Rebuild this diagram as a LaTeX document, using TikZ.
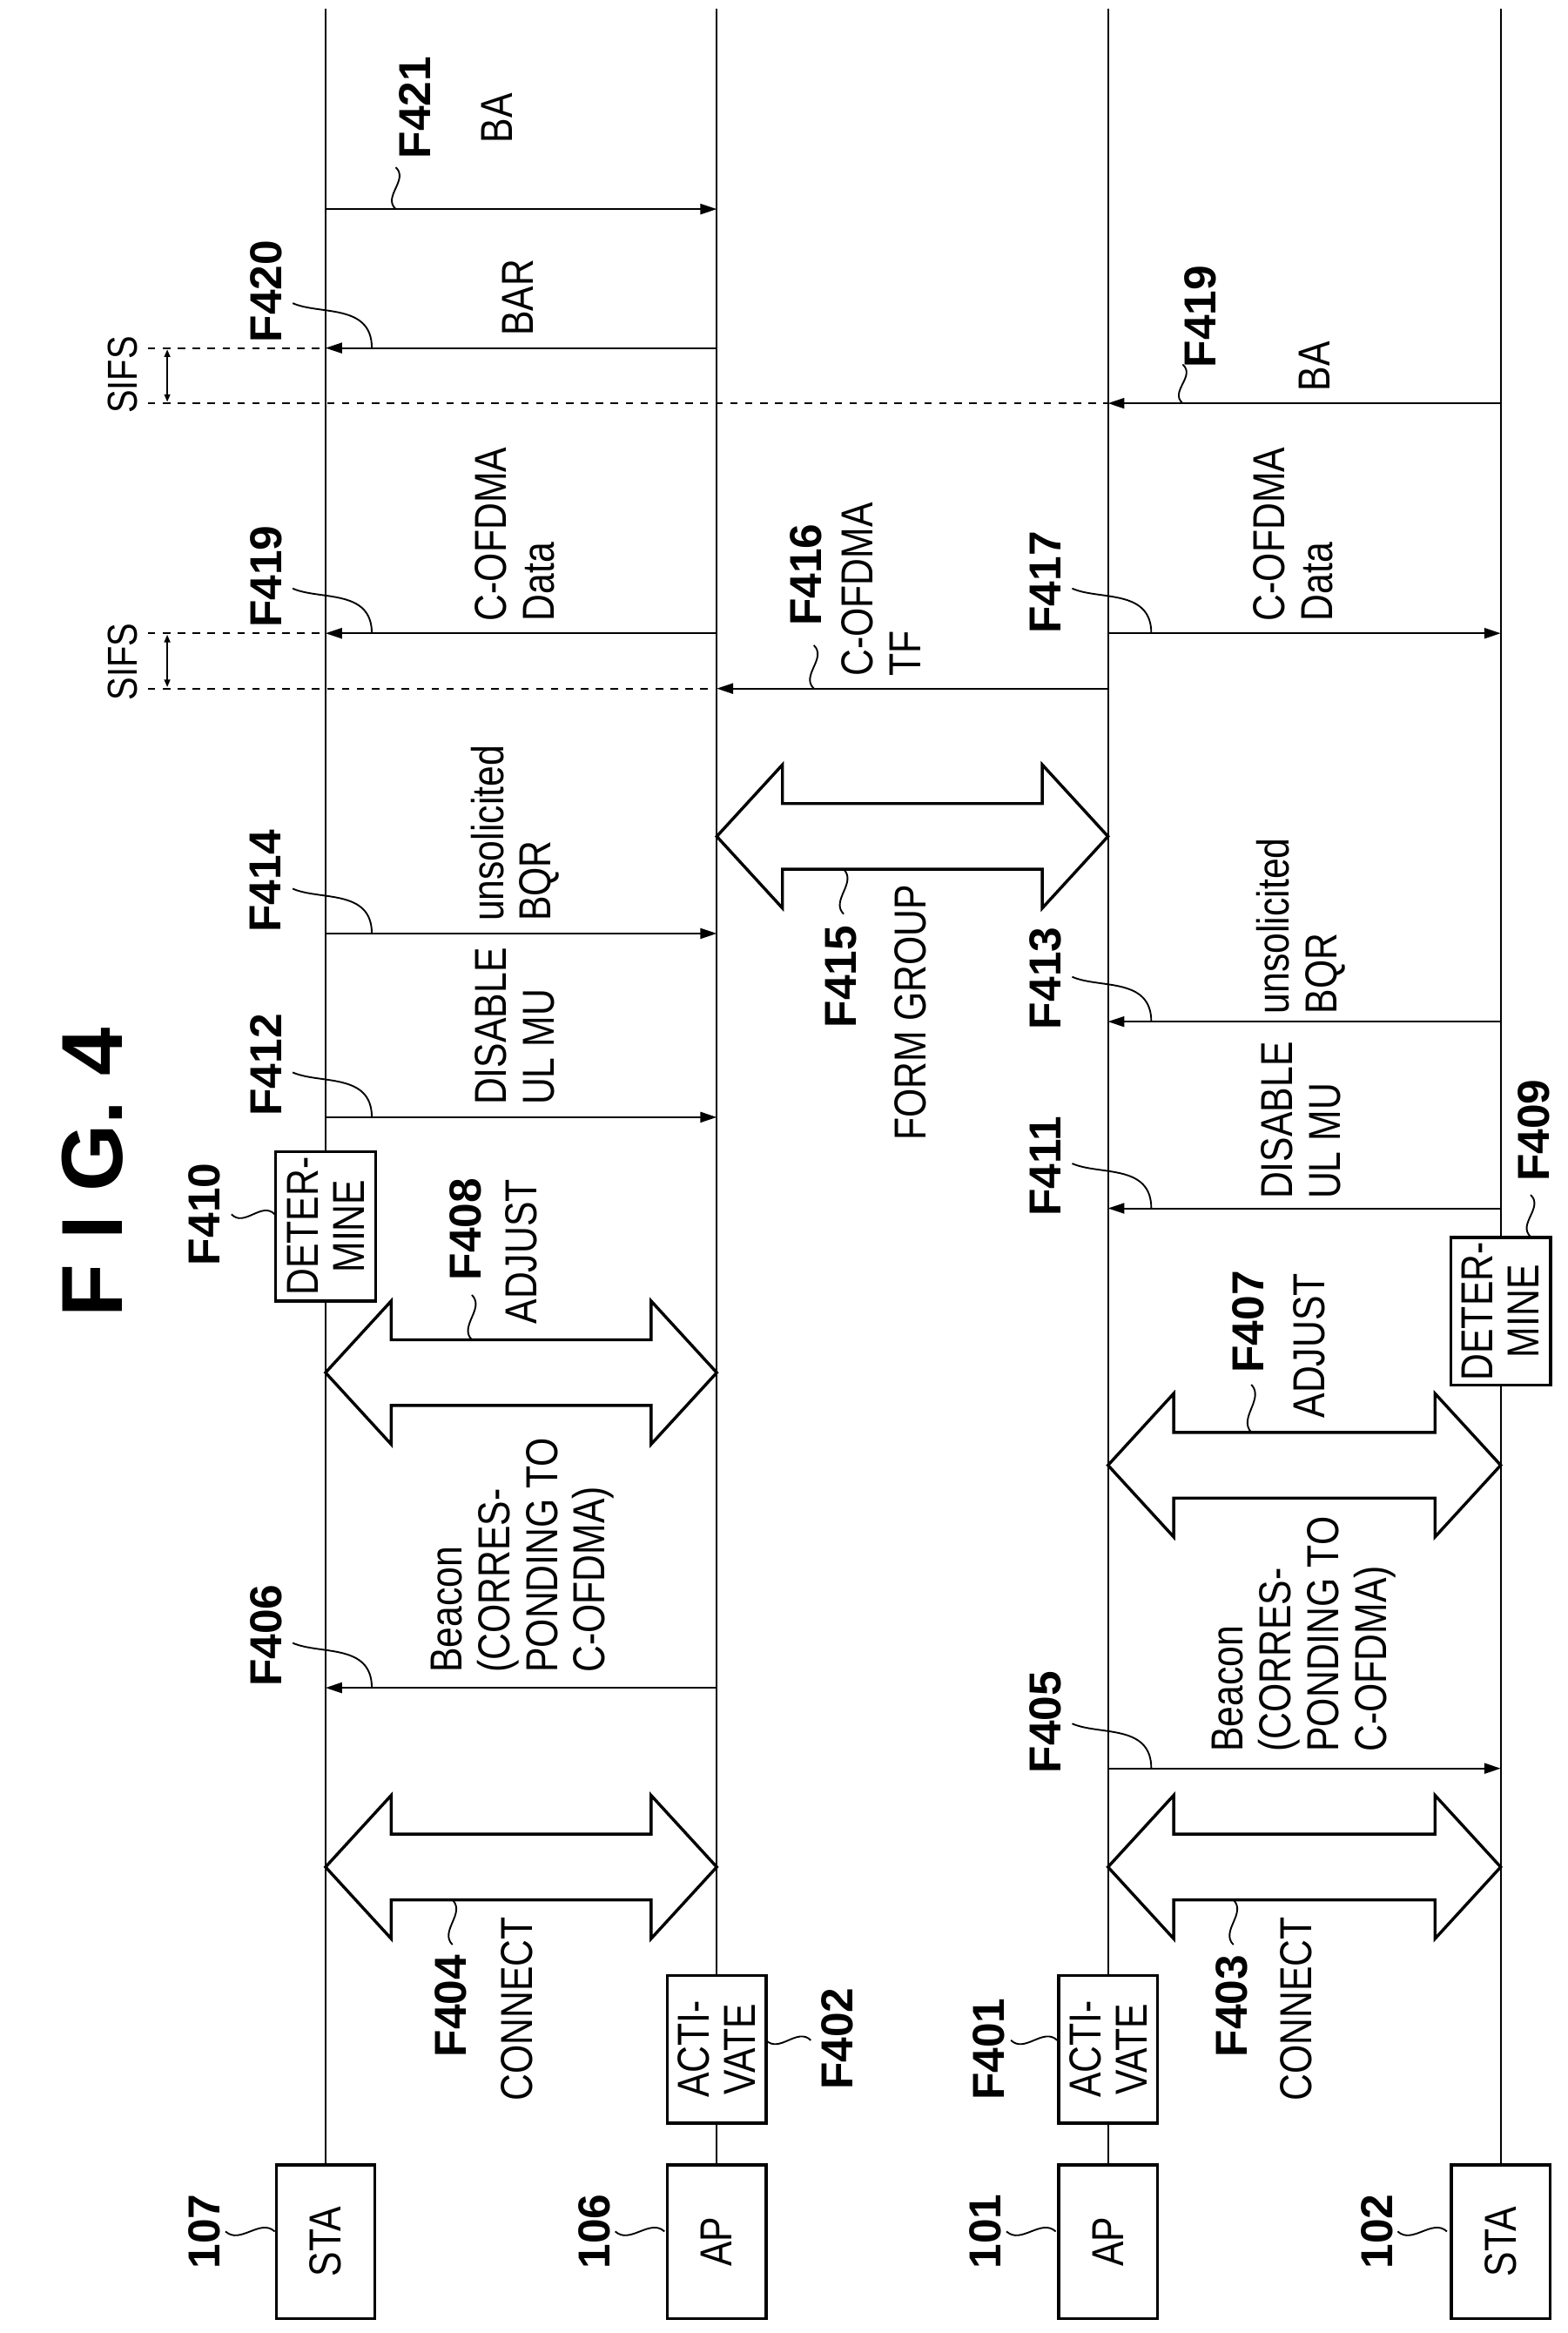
\documentclass[tikz,border=0pt]{standalone}
\usepackage{fontspec}
\setmainfont[FakeStretch=0.83]{Liberation Sans}
\newfontfamily\labfont{Liberation Sans}
\usetikzlibrary{arrows.meta}
\newcommand\myleader[2]{\draw[lead,shift={(#1,#2)}] (0,-30) .. controls (18,-22) and (53,-30) .. (53,0);}
\newcommand\mytilde[3]{\draw[lead,shift={(#1,#2)}] (0,0) .. controls (-9,{-0.3*#3}) and (9,{-0.7*#3}) .. (0,-#3);}
\newcommand\htilde[3]{\draw[lead,shift={(#1,#2)}] (0,0) .. controls ({0.3*#3},9) and ({0.7*#3},-9) .. (#3,0);}
\newcommand\dbl[3]{\draw[blk] (#1,#3) -- (#1+44,#3-48) -- (#1+44,#3-22) -- (#2-44,#3-22) -- (#2-44,#3-48) -- (#2,#3) -- (#2-44,#3+48) -- (#2-44,#3+22) -- (#1+44,#3+22) -- (#1+44,#3+48) -- cycle;}
\begin{document}
\begin{tikzpicture}[x=1pt,y=-1pt,
 life/.style={line width=1.2pt},
 box/.style={draw,line width=2pt,fill=white,rotate=90,inner sep=0,align=center,font=\fontsize{30}{31}\selectfont},
 lab/.style={rotate=90,font=\labfont\fontsize{30}{32}\selectfont\bfseries,inner sep=0},
 txt/.style={rotate=90,font=\fontsize{30}{32}\selectfont,align=left,inner sep=0,anchor=west},
 msg/.style={line width=1.2pt,-{Triangle[length=11pt,width=7pt]}},
 dsh/.style={line width=1.2pt,dash pattern=on 5pt off 5pt},
 lead/.style={line width=1.1pt},
 blk/.style={line width=2pt,fill=white,line join=miter}]
\useasboundingbox (0,0) rectangle (1050,1562);
% lifelines
\foreach \x/\n in {218/a,480/b,742/c,1005/d}{\coordinate (top\n) at (\x,6);\coordinate (bot\n) at (\x,1450);}
\draw[life] (topa) -- (bota);
\draw[life] (topb) -- (botb);
\draw[life] (topc) -- (botc);
\draw[life] (topd) -- (botd);
% entity boxes
\node[box,minimum width=103pt,minimum height=66pt] (sta107) at (218,1501) {STA};
\node[box,minimum width=103pt,minimum height=66pt] (ap106) at (480,1501) {AP};
\node[box,minimum width=103pt,minimum height=66pt] (ap101) at (742,1501) {AP};
\node[box,minimum width=103pt,minimum height=66pt] (sta102) at (1005,1501) {STA};
% title
\node[rotate=90,font=\labfont\fontsize{58}{60}\selectfont\bfseries] (title) at (62,785) {F I G. 4};
\node[lab] (n107) at (137,1494) {107};
\node[lab] (n106) at (398,1494) {106};
\node[lab] (n101) at (660,1494) {101};
\node[lab] (n102) at (922,1494) {102};
\foreach \x in {151,412,674,936}{\htilde{\x}{1494}{33}}
% activate
\node[box,minimum width=99pt,minimum height=66pt] (act106) at (480,1372) {ACTI-\\VATE};
\node[box,minimum width=99pt,minimum height=66pt] (act101) at (742,1372) {ACTI-\\VATE};
\node[lab] (f402) at (561,1365) {F402};
\node[lab] (f401) at (662,1372) {F401};
\htilde{513}{1366}{30}
\htilde{677}{1366}{31}
% connect
\dbl{218}{480}{1250}
\dbl{742}{1005}{1250}
\node[lab] (f404) at (302,1343) {F404};
\node[txt,anchor=center] (c404) at (346,1345) {CONNECT};
\node[lab] (f403) at (825,1343) {F403};
\node[txt,anchor=center] (c403) at (868,1345) {CONNECT};
\mytilde{303}{1302}{30}
\mytilde{826}{1302}{30}
% beacons
\draw[msg] (480,1130) -- (218,1130);
\node[lab] (f406) at (178,1095) {F406};
\myleader{196}{1130}
\node[txt] (t406) at (350,1120) {Beacon\\(CORRES-\\PONDING TO\\C-OFDMA)};
\draw[msg] (742,1184) -- (1005,1184);
\node[lab] (f405) at (700,1153) {F405};
\myleader{718}{1184}
\node[txt] (t405) at (873,1173) {Beacon\\(CORRES-\\PONDING TO\\C-OFDMA)};
% adjust
\dbl{218}{480}{919}
\dbl{742}{1005}{981}
\node[lab] (f408) at (312,823) {F408};
\node[txt,anchor=center] (a408) at (349,838) {ADJUST};
\mytilde{316}{897}{30}
\node[lab] (f407) at (836,885) {F407};
\node[txt,anchor=center] (a407) at (877,901) {ADJUST};
\mytilde{838}{959}{32}
% determine
\node[box,minimum width=100pt,minimum height=67pt] (det410) at (218,821) {DETER-\\MINE};
\node[lab] (f410) at (137,813) {F410};
\htilde{155}{813}{29}
\node[box,minimum width=99pt,minimum height=67pt] (det409) at (1005,878) {DETER-\\MINE};
\node[lab] (f409) at (1027,757) {F409};
\mytilde{1025}{828}{28}
% disable / bqr
\draw[msg] (218,748) -- (480,748);
\node[lab] (f412) at (178,713) {F412};
\myleader{196}{748}
\node[txt] (t412) at (345,740) {DISABLE\\UL MU};
\draw[msg] (218,625) -- (480,625);
\node[lab] (f414) at (178,590) {F414};
\myleader{196}{625}
\node[txt] (t414) at (345,617) {unsolicited\\BQR};
\draw[msg] (1005,809) -- (742,809);
\node[lab] (f411) at (700,781) {F411};
\myleader{718}{809}
\node[txt] (t411) at (871,803) {DISABLE\\UL MU};
\draw[msg] (1005,684) -- (742,684);
\node[lab] (f413) at (700,655) {F413};
\myleader{718}{684}
\node[txt] (t413) at (871,679) {unsolicited\\BQR};
% form group
\dbl{480}{742}{560}
\node[lab] (f415) at (563,654) {F415};
\node[txt,anchor=center] (g415) at (610,678) {FORM GROUP};
\mytilde{565}{612}{30}
% TF
\draw[dsh] (99,461) -- (480,461);
\draw[msg] (742,461) -- (480,461);
\node[lab] (f416) at (540,385) {F416};
\mytilde{545}{461}{29}
\node[txt] (t416) at (590,453) {C-OFDMA\\TF};
% data
\draw[dsh] (99,424) -- (218,424);
\draw[msg] (480,424) -- (218,424);
\node[lab] (f419a) at (178,386) {F419};
\myleader{196}{424}
\node[txt] (t419a) at (345,416) {C-OFDMA\\Data};
\draw[msg] (742,424) -- (1005,424);
\node[lab] (f417) at (700,390) {F417};
\myleader{718}{424}
\node[txt] (t417) at (866,416) {C-OFDMA\\Data};
% SIFS
\node[rotate=90,font=\fontsize{28}{30}\selectfont,inner sep=0] (sifs1) at (82,443) {SIFS};
\draw[line width=0.9pt,{Triangle[length=5pt,width=4pt]}-{Triangle[length=5pt,width=4pt]}] (112,425) -- (112,460);
\node[rotate=90,font=\fontsize{28}{30}\selectfont,inner sep=0] (sifs2) at (82,251) {SIFS};
\draw[line width=0.9pt,{Triangle[length=5pt,width=4pt]}-{Triangle[length=5pt,width=4pt]}] (112,234) -- (112,269);
% BA right
\draw[dsh] (99,270) -- (742,270);
\draw[msg] (1005,270) -- (742,270);
\node[lab] (f419b) at (804,212) {F419};
\mytilde{792}{270}{26}
\node[txt] (t419b) at (880,262) {BA};
% BAR
\draw[dsh] (99,233) -- (218,233);
\draw[msg] (480,233) -- (218,233);
\node[lab] (f420) at (178,195) {F420};
\myleader{196}{233}
\node[txt] (t420) at (347,225) {BAR};
% BA left
\draw[msg] (218,140) -- (480,140);
\node[lab] (f421) at (278,72) {F421};
\mytilde{265}{140}{28}
\node[txt] (t421) at (333,96) {BA};
\end{tikzpicture}
\end{document}
